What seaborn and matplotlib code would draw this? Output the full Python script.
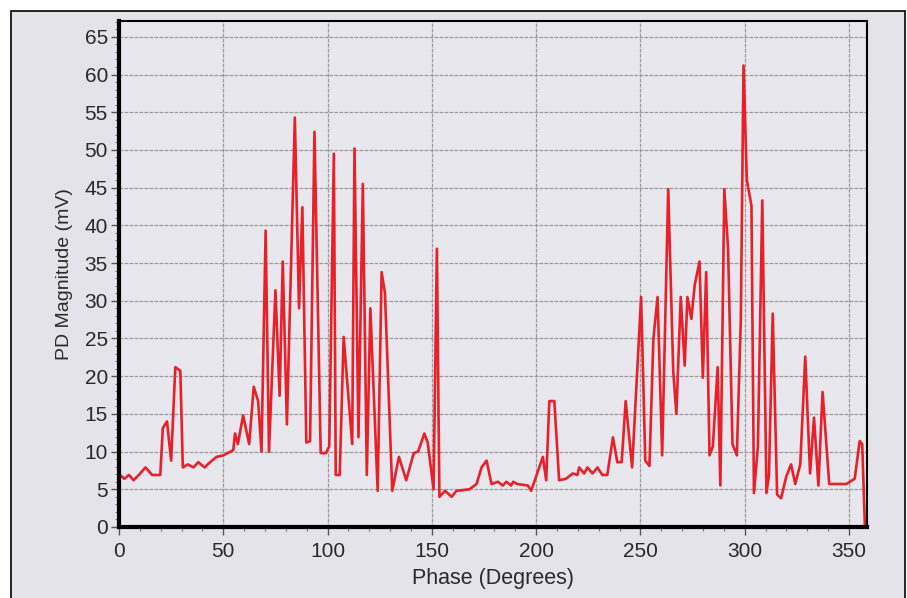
import matplotlib
matplotlib.use("Agg")
import matplotlib.pyplot as plt
from matplotlib.patches import Rectangle
from matplotlib.ticker import MultipleLocator
import seaborn as sns
import pandas as pd

# phase (degrees) and PD magnitude (mV)
phase = [0.5, 2.5, 4.8, 7, 9.5, 12.7, 15.9, 19.8, 21, 23, 25, 27, 29.4, 30.6,
         33, 35.7, 38, 41, 43.7, 46.8, 50, 54.8, 55.6, 57, 59.5, 62.4, 64.6,
         66.7, 68.3, 70.3, 71.9, 75, 77, 78.5, 80.5, 84.3, 86.3, 87.9, 89.8,
         91.6, 93.7, 96.7, 99.2, 100.8, 103, 103.9, 105.8, 107.7, 111.8, 112.9,
         114.8, 116.9, 118.8, 120.5, 124, 125.9, 127.5, 131, 134.2, 137.7,
         141.3, 143.4, 146.4, 148, 150.8, 152.4, 153.6, 156.3, 159.5, 161.8,
         168, 171.4, 173.8, 176.2, 178.6, 181.7, 184, 185.7, 188, 189, 191,
         196, 197.6, 203.2, 204.8, 206.3, 208.7, 211, 214.3, 217.5, 219.8,
         220.6, 223, 224.6, 227, 229.4, 231.7, 234.1, 236.8, 238.9, 241, 242.9,
         246, 250.3, 252.3, 254.3, 256.2, 258.2, 260.4, 263.3, 265.7, 267.2,
         269.3, 271.2, 272.5, 274.4, 276, 278.3, 279.9, 281.5, 283.1, 284.7,
         287, 288.3, 290.2, 292, 294.1, 296.2, 298.1, 299.4, 301, 303.2, 304.4,
         306.3, 308.4, 310.4, 311.6, 313.4, 315.5, 317.4, 319.9, 322.2, 324.2,
         326.6, 329, 331.3, 333.2, 335.3, 337.3, 340.5, 348.7, 352.7, 355.1,
         356.3, 357.6]
magnitude = [6.9, 6.4, 6.9, 6.2, 6.9, 7.9, 6.9, 6.9, 13.1, 14, 8.8, 21.2, 20.7,
             7.9, 8.3, 7.9, 8.6, 7.9, 8.6, 9.3, 9.5, 10.2, 12.4, 11, 14.8, 11,
             18.6, 16.7, 10, 39.3, 10, 31.4, 17.4, 35.2, 13.6, 54.3, 29, 42.4,
             11.2, 11.4, 52.4, 9.8, 9.8, 10.7, 49.5, 6.9, 6.9, 25.2, 11, 50.2,
             11.9, 45.5, 6.9, 29, 4.8, 33.8, 31, 4.8, 9.3, 6.2, 9.8, 10, 12.4,
             11.2, 5, 36.9, 4, 4.8, 4, 4.8, 5, 5.7, 7.9, 8.8, 5.7, 6, 5.5, 6,
             5.5, 6, 5.7, 5.5, 4.8, 9.3, 6.2, 16.7, 16.7, 6.2, 6.4, 7.1, 6.9,
             7.9, 7.1, 7.9, 7.1, 7.9, 6.9, 6.9, 11.9, 8.6, 8.6, 16.7, 7.9, 30.5,
             8.8, 8.1, 25, 30.5, 9.5, 44.8, 20.7, 15, 30.5, 21.4, 30.5, 27.6,
             32.1, 35.2, 19.8, 33.8, 9.5, 10.7, 21.2, 5.5, 44.8, 36.9, 11, 9.5,
             27.4, 61.2, 46, 42.6, 4.5, 10.7, 43.3, 4.5, 6.9, 28.3, 4.3, 3.8,
             6.7, 8.3, 5.7, 8.3, 22.6, 7.1, 14.5, 5.5, 17.9, 5.7, 5.7, 6.4,
             11.4, 11, 0]

df = pd.DataFrame({"Phase": phase, "PD": magnitude})

sns.set_style("ticks")
plt.rcParams["font.family"] = ["Liberation Sans", "DejaVu Sans"]

W, H = 907, 598
fig = plt.figure(figsize=(W / 100, H / 100), dpi=100, facecolor="white")
bg = "#e3e3e9"
# grey panel with a thin black frame, open at the bottom edge
panel = Rectangle((11 / W, -0.05), (905 - 11) / W, 587 / H + 0.05,
                  transform=fig.transFigure, facecolor=bg,
                  edgecolor="black", linewidth=1.2)
panel.set_zorder(-10)
fig.add_artist(panel)

ax = fig.add_axes([119 / W, (H - 527) / H, (867 - 119) / W, (527 - 21) / H])
ax.set_zorder(1)
ax.set_facecolor("#e7e7ed")

sns.lineplot(data=df, x="Phase", y="PD", ax=ax, sort=False, estimator=None,
             color="#e8202a", linewidth=1.9)

ax.set_xlim(0, 358.6)
ax.set_ylim(0, 67.1)
ax.xaxis.set_major_locator(MultipleLocator(50))
ax.xaxis.set_minor_locator(MultipleLocator(10))
ax.yaxis.set_major_locator(MultipleLocator(5))
ax.yaxis.set_minor_locator(MultipleLocator(1))

ax.grid(True, which="major", color="#9a9a9a", linestyle=(0, (3, 1)), linewidth=0.9)
ax.set_axisbelow(True)

ax.tick_params(which="major", length=6, width=1, color="#555555",
               labelsize=15, labelcolor="#2a2a2a", pad=2)
ax.tick_params(axis="x", which="major", pad=5)
ax.tick_params(which="minor", length=3, width=0.8, color="#777777")

for s in ["left", "bottom"]:
    ax.spines[s].set_linewidth(3)
for s in ["top", "right"]:
    ax.spines[s].set_linewidth(1.5)
for s in ax.spines.values():
    s.set_color("black")

ax.set_xlabel("Phase (Degrees)", fontsize=15.5, color="#2a2a2a", labelpad=5)
ax.set_ylabel("PD Magnitude (mV)", fontsize=14, color="#2a2a2a", labelpad=8)

fig.savefig("out.png", dpi=100, facecolor="white")
